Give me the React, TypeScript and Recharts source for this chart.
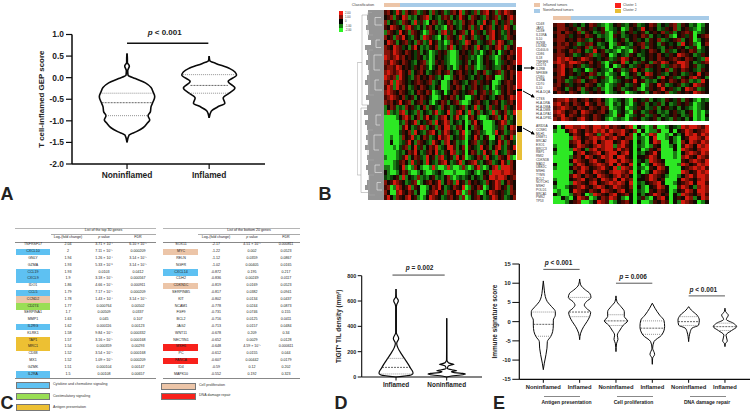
import React from "react";
import {
  Bar,
  BarChart,
  Cell,
  Label,
  ReferenceLine,
  Scatter,
  ScatterChart,
  XAxis,
  YAxis,
} from "recharts";

const FONT = "'Liberation Sans', Arial, sans-serif";

// panel A: violin outlines, density
const aCategories = ["Noninflamed", "Inflamed"];
const aTicks = [1, 0.5, 0, -0.5, -1, -1.5, -2];
const aNonValues = [0.56, 0.44, 0.35, 0.27, 0.16, 0.06, -0.02, -0.12, -0.23, -0.33, -0.44, -0.56, -0.67, -0.79, -0.88, -0.98, -1.05, -1.16, -1.25, -1.33, -1.5];
const aNonDensity = [0, 1, 1, 7, 2, 3, 25, 55, 72, 78, 83, 78, 72, 70, 63, 68, 61, 48, 28, 6, 0];
const aNonQuart = [-0.36, -0.58, -0.88];
const aNonQuartDensity = [76, 76, 63];
const aInfValues = [0.5, 0.39, 0.33, 0.21, 0.06, -0.09, -0.24, -0.36, -0.47, -0.59, -0.68, -0.78, -0.93];
const aInfDensity = [0, 2, 20, 62, 82, 57, 77, 60, 42, 47, 25, 6, 0];
const aInfQuart = [0.07, -0.18, -0.36];
const aInfQuartDensity = [78, 56, 60];

// panel D
const dCategories = ["Inflamed", "Noninflamed"];
const dTicks = [800, 600, 400, 200, 0];
const dInfValues = [695, 634, 603, 570, 555, 350, 305, 265, 234, 187, 147, 108, 68, 42, 29, 16, 0];
const dInfDensity = [0, 1, 7, 2, 1, 1, 8, 2, 5, 15, 25, 35, 44, 50, 51, 45, 0];
const dInfQuart = [147, 76, 24];
const dInfQuartDensity = [25, 42, 50];
const dNonValues = [463, 134, 113, 104, 100, 96, 87, 68, 55, 50, 42, 33, 29, 24, 16, 8, 0];
const dNonDensity = [0, 0.5, 5, 16, 22, 14, 5, 2, 20, 30, 14, 30, 48, 56, 42, 14, 0];

// panel E
const eCategories = ["Noninflamed", "Inflamed", "Noninflamed", "Inflamed", "Noninflamed", "Inflamed"];
const eTicks = [15, 10, 5, 0, -5, -10, -15];
const eValues = [
  [10.6, 8.2, 6.5, 5.2, 3.9, 2.6, 1.7, 0.4, -0.9, -2.6, -3.9, -5.2, -6.9, -8.6, -10.8, -12.5],
  [11.1, 9.6, 8.2, 7.4, 6.3, 5.2, 4.3, 3.5, 2.4, 1.3, 0, -1.3, -3, -4.7],
  [6.7, 5.2, 3.9, 2.6, 1.3, 0.2, -0.9, -2.2, -3.5, -4.6, -5.6, -7.8],
  [4.8, 3.5, 1.7, 0.3, -1.3, -3.5, -5.2, -6.9, -8.5, -9.5, -11.1],
  [3.9, 3, 1.7, 0.4, -0.9, -1.7, -2.6, -5.2],
  [3.5, 2.6, 1.7, 0.6, -0.4, -1.3, -2.3, -3.5, -5, -5.8, -6.5],
];
const eDensity = [
  [0, 3, 6, 12, 25, 36, 36, 30, 30, 28, 22, 12, 11, 8, 3, 0],
  [0, 3, 18, 30, 34, 20, 14, 20, 33, 30, 22, 12, 3, 0],
  [0, 3, 15, 25, 25, 35, 22, 12, 4, 6, 2, 0],
  [0, 8, 22, 35, 37, 28, 5, 1, 7, 1, 0],
  [0, 8, 25, 32, 30, 10, 5, 0],
  [0, 2, 10, 4, 25, 35, 20, 3, 7, 1, 0],
];
const eQuart = [
  [2.5, -0.7, -3.8],
  [6.3, 2.5, 1.3],
  [1.8, 0.2, -1],
  [0.2, -1.7, -3.3],
  [1.3, 0, -1],
  [-0.4, -1.3, -2.3],
];
const eQuartDensity = [
  [36, 30, 22],
  [34, 32, 30],
  [25, 34, 22],
  [34, 36, 28],
  [25, 32, 28],
  [25, 35, 20],
];
const eGroups = ["Antigen presentation", "Cell proliferation", "DNA damage repair"];

// panel B: heat map levels typed cell by cell, R r d k e g G = high to low
const heatColors: Record<string, string> = {
  R: "#d41a0e",
  r: "#851308",
  d: "#470b04",
  k: "#130a03",
  e: "#0d4009",
  g: "#1a7c14",
  G: "#2de824",
};
const mainRows = [
  "drkeRdgrkdrgedkgrekdgedrkRgdkergdrRkdgrdRrdk",
  "kdrgdkRrgegkdrRgkegdrdgkeRdkgrdkegrkdrgdkrRd",
  "rgkdegrdkgRedgGkrdgekrdgegrkdrkgeRkdgrkedrgd",
  "dkRrdkgrRdegkgdrkgegGdrkegdkrgdeRkdrgkdeRrkg",
  "grdkeRkdgrdkeGgrdkgrRedgkdrgkRedkgdrRkdgerkd",
  "rkdgrdRkegdkgRrdegGkgrdkeRgdkrgedkgrRkdegrdk",
  "kRrdgkdrekgrdgeRkdgeGgrkdegRrkdgekdrgdRrkegd",
  "rdkRrdekgdRkgegdkrgegdRgkedrkdgRkegdkrRdgrkd",
  "rrdRrdkrdkedgkeGgedkdgGGgkdkedgeGekdgkGedkrd",
  "RrdrRdrkdkedkgeGgkdkegGGgdkdegeGgkdegGgdkrdk",
  "rdRrdkrdkegkdrgGgdkdegGGgekdgkeGgkdkeGgedkdr",
  "drrdRrkdkedkrdeGekrdkgeGgdkredgGgedkeggdkrdk",
  "rRrdrRdkrgkdrkgekdrkdrgkdrkdekgdkrgekdrgdkrd",
  "RrdrgRdkegdrkdkrdegkGGgdkrdkegkdekrdkGGgdkrk",
  "rdRgRrdkekdrdkdrgekGGgkrdkegkdredkdkGGgkdrdk",
  "dRrgRdrkgedkrdkegkdGGgdkrdgkedrkdegkGgedkrdr",
  "rRrdkrdkegkrdkrdGgekGekrdkekdrgkdredgGgdkrdk",
  "drRrdkrekdgkrdkeGGgkdkrdgkeGGedkrdkegkdrkdRr",
  "rdrkdRkdrgkdrekgGekrdgkdrgGGgkdrkegkdrkgedrk",
  "gkrdgegrkdegkrgdkegrkdgekdrgkeRgdkgredkgrekd",
  "gRgegrRgkegrgkegdRgekRgerRkgRgkrgkegRgdkrgeR",
  "GGGGgkrRdgkrgdRkegdrRkgdRegGdrkgGGgkdrgkRegk",
  "GGGGGegrkdRgkedrgRkdRrgkegkGgdRkeGGGgkdRrgek",
  "GGGGGgdRkgedRrgkdgrkRRegdrkGkgrdkGGGgedrgkRr",
  "GGGGGedkrgRkegdrRkgdRrkegdRGgkdregGGgRkdgerd",
  "GGgGGgrkdRegkrdgekRdrRgkedrGekRdgkdGGkrgdkRg",
  "GGkGGgedRkgrdkegRdkgrRkdgegGkdrgedkgekRdgrke",
  "GGGgGedrgkRedgkrdRgekRRdgkrGdkegRkdgkrRegdkR",
  "GGGGgegkrdRkgedrkRegdkRrgedGkrdgeRkdgRkegrdk",
  "gGGGgedRgkrdegRkdgrRekdgRkrGgekrdgRkegrdkRgG",
  "GGGgedrkgRedkgRkegdrRkgedRgkdrRegkdrgekRdgrk",
  "ggGgekRgGgrkgGGgRgGGgRgGGgrgGgdRgGgkrRgRRRrk",
  "kgGGgkrdgGGgkgGGgekgGGGgGGGgekgGgkdgRRRrRRrd",
  "egekdgRgkegrgegkdgegkrgGgegekgkegdkRRrRRrkdr",
  "rkdRrdkgedrGgkdrkdRgkrdgRkdgrkdkegrkdRrgkrdk",
  "drGgRrkdRgdkGGgkrdRkgekrdkRGgdkrdGgkdRrkdgrk",
  "rkGGrRdkrdgkGGedrRkdgrdkRrGgrkdgGgkRrdkdegrd",
  "dRkgrdkrRkdgGgkRrdkgedrkdgrGgkdrkgedRrkdgekr",
];
const zoomTopRows = [
  "drrkdekgkrdegGgkdegkdgekrdgkedrgdkgeGgk",
  "krrdkdgdkdekdGgekGgdkeRkdkgedkrgkdegGek",
  "drkrdkrgdkgedgGedgkdekdgkdkredgkdrdGgek",
  "krrdekdkrdkgegGdkgekdkrdgkekdgGkdedGkdr",
  "drrkdkrdegkdkgGekdgkdekgdkrgekdrgkdGgkd",
  "krdrkdgedrkgekGgdkegkdredkgdkekgRkdgGkr",
  "drrdkedkrgdegkGegGgedkrgdkegkdkdkgedGek",
  "krdkrdrkgeRkdgegGegGdkekrdkgdegkdkrdgek",
  "drrkdgekdrgedkGgkegdkgekdkrkedkRrdkgedk",
  "dRrRrkdRrdkekdgedRrkdkgkdkrdkdrdkrdkegR",
  "rRrdRRrdkrkdgGedkRgkgedkgrdRrkdRRrkgedr",
  "krRdrkdgedkdeGkGgdkgedkrdkdgedrdRrkdgek",
  "drRkdgekGgdkegGkdgedRkdgekdkrgdkrdkegdk",
  "krRkdkedkrdgeGgekGgkdgkRrkdegkdkgedkRkd",
  "drdkgedkdgekdgGedkgedkgedkgRkdegdkrRdkg",
  "krdgedrgkdrkegGgekdkRkdgegkdkrdkrdgegRk",
  "drkdekdkrdkgeGgedkgedkGgdkRdgekdgekRrdk",
  "rdkgdkrgdkedgGgkdgekdgGedkdRkdegkRrdgek",
  "krdkrdkgedkdkGgekdGgekdgkrdkrgedkdkRrdk",
];
const zoomMidRows = [
  "drrRdrkdrkdrkgGgekgGdkedgkegdkedgdkgGeg",
  "rRdrkrdkRdkrdgGegkgGekdgkedgkgedkdeGgek",
  "drRrdkrdkrdkrdGgekGgedkgedgkdekgkegGgek",
  "rRrkdrkRrdkdrkgGekgGdkgedkgegkdegkdGgGe",
  "drRkrdkrdkrdkegGdkGgekdgedkgekdkgedGgGk",
  "rdRrdkrRdkrdkgGgegGedkgekdgkegdekgkGgGe",
];
const zoomBottomRows = [
  "kGkRRrrRrdRRrRdrdkrRGkgGgdGGgkegRrRRrdR",
  "gGGkrRdkrdRrRdRrrRdkrGkGggdGGkGkdRrkdrRr",
  "GGGGkrdkRrdgrRrkrRkrGkGgRrGGgGkgkRrRdRr",
  "GGGGgRrkdrRrRdrRdkrrGegGkRGGgkgGkdRRrdR",
  "GGGGdrRkrdRkrRRkdRrkGkgGkRrGGkgGrkRrdRr",
  "gGGGkdRrdkrRrRRgrRdkGegGgdkGGgkGdRrkRrR",
  "kGGGgRrkgrRdrRRdRdrkGkGgdkrGGGkGRrdkrRR",
  "gGGGGkrRkdrRkrRRkrRkGegkdRkGGGgGkrRrdRr",
  "GGGGgdrkRrkdRrRkRRdkGkkdRrkGGGgGrRdkRrd",
  "GGGGkRrdkrRdkrRRdRrdGekgRrdkGGGGdkrRrdR",
  "kGGGgdRrkdrRrdRkRdkRGkGgkRrdGGGgRrkdRrR",
  "gGGGkrdRrkdrRdkRgRrdGegGdkRrkGGGkdrRrRd",
  "GGGGgkrRdkRrdkrRRrdRGkGgkRrdkGGGRrkdRrR",
  "GGGGdRrkrdkRrdkrRdrkGekdRrdkgGGgkrRdRRr",
  "gGGGkdrRkdrkRrdRkRdrGkkdRrkdGGGkRrdkrRr",
  "kGGGgRrdkrRkdrRrRrkRGegkdrRkGGgkdrRkRRd",
  "gGGgkdrRdkrRrkdRrdkrGkgGkdRrkGGdRrkgrRr",
  "GgGGkRrdkrdkRrdkrRkdGegGdkrdkGgkdRrkRRr",
  "kgGGgdrkGgRrdkrRkdrkGkgkdRrkdGkgRrdkrRd",
  "GGkgGkRrdGgkrdRrkgGkGedgGkrRkGkdkRrgkRr",
  "GGGgkdrGGgkRrdGgkdrkGkGGgdkrdGkgRrdkGgk",
];
const zoomLabels = [
  ["CD48", "JAK3", "CD3E", "IL15RA", "IL10", "IKZKB", "LILRB2", "CD40LG", "CD86", "IL18", "TNFSF8", "CD274", "IL2RB", "NFKBIE", "CD80", "IL2RA", "CD70", "IL10", "HLA-DQA"],
  ["CTSS", "HLA-DRA", "HLA-DMA", "HLA-DMB", "HLA-DPA1", "HLA-DPB1"],
  ["ARID5A", "CCNE1", "MLH1", "DNMT1", "BRCA2", "EXO1", "BRCC3", "RBP1", "RMI2", "CDKN1B", "MAD2", "UBE2C", "MSH6", "TYMS", "BCL2", "NOTCH1", "MSH2", "POLD1", "BRCA1", "PMS2", "TP53"],
];
const dendroLeaves = [36, 40, 38, 42, 34, 38, 30, 44, 40, 36, 42, 38, 34, 40, 44, 36, 38, 42, 34, 40, 46, 38, 44, 40, 36, 42, 38, 44, 34, 40, 36, 42, 38, 34, 40, 44, 38, 36];
const dendroLinks = [
  { d: [22, 26.7, 26.7, 23], r: [10.5, 10.5, 33, 33] },
  { d: [16, 22, 22, 15], r: [1, 1, 19, 19] },
  { d: [17, 23, 23, 16], r: [19.6, 19.6, 36.5, 36.5] },
  { d: [12, 16, 16, 11], r: [0.5, 0.5, 5, 5] },
  { d: [11, 15, 15, 10], r: [8, 8, 17, 17] },
  { d: [11, 16, 16, 10], r: [24, 24, 30, 30] },
  { d: [10, 15, 15, 9], r: [33, 33, 37, 37] },
];
const leafLinks = [
  { d: [3, 9, 9, 2], r: [1.5, 1.5, 3, 3] },
  { d: [4, 8, 8, 3], r: [6, 6, 7.5, 7.5] },
  { d: [2, 10, 10, 4], r: [9, 9, 12, 12] },
  { d: [5, 9, 9, 2], r: [14, 14, 16, 16] },
  { d: [3, 8, 8, 4], r: [21, 21, 23, 23] },
  { d: [2, 10, 10, 5], r: [25, 25, 28, 28] },
  { d: [4, 9, 9, 2], r: [31, 31, 32.5, 32.5] },
  { d: [3, 7, 7, 2], r: [34.5, 34.5, 36, 36] },
];
const colorbarLabels = ["2.00", "1.00", "0", "-1.00", "-2.00"];
const colorbarFills = ["#f2190f", "#8a1208", "#000000", "#157a12", "#2df524"];

// panel C
const topGenes = ["TNFRSF17", "CXCL10", "GNLY", "GZMA", "CCL19", "CXCL9", "IDO1", "CCL5", "CCND2", "CD274", "SERPINA1", "MMP1", "IL2RG", "KLRK1", "TAP1", "MRC1", "CD38", "MX1", "GZMK", "IL2RA"];
const topFold = ["2.04", "2", "1.94", "1.93", "1.93", "1.9", "1.86", "1.79", "1.78", "1.77", "1.7", "1.63", "1.62", "1.58", "1.57", "1.54", "1.52", "1.52", "1.51", "1.5"];
const topP = ["3.71 × 10⁻⁷", "7.11 × 10⁻⁵", "1.26 × 10⁻⁷", "5.33 × 10⁻⁸", "0.0103", "3.18 × 10⁻⁵", "4.66 × 10⁻⁵", "7.17 × 10⁻⁵", "1.43 × 10⁻⁷", "0.000764", "0.00509", "0.045", "0.000116", "9.84 × 10⁻⁵", "3.16 × 10⁻⁵", "0.000359", "3.54 × 10⁻⁵", "1.09 × 10⁻⁵", "0.000104", "0.00108"];
const topFdr = ["6.10 × 10⁻⁵", "0.000209", "3.14 × 10⁻⁵", "3.14 × 10⁻⁵", "0.0412", "0.000567", "0.000911", "0.000209", "3.14 × 10⁻⁵", "0.00502", "0.0337", "0.107", "0.00123", "0.000332", "0.000168", "0.00293", "0.000168", "0.000209", "0.00147", "0.00657"];
const topColors = ["", "blue", "", "", "blue", "blue", "", "blue", "tan", "green", "", "", "blue", "", "yellow", "yellow", "", "", "", "blue"];
const bottomGenes = ["SOX11", "MYC", "RELN", "NGFR", "CXCL14", "CDH2", "CDKN1C", "SERPINB5", "KIT", "NCAM1", "FGF9", "BCL2", "JAG2", "WNT11", "NECTIN1", "MSH6", "PC", "FANCA", "ID4", "MAPK10"];
const bottomFold = ["-2.17", "-1.22", "-1.12", "-1.02", "-0.872", "-0.836", "-0.819", "-0.817", "-0.802", "-0.778", "-0.731", "-0.716", "-0.713", "-0.678", "-0.652", "-0.648", "-0.612", "-0.607", "-0.59", "-0.552"];
const bottomP = ["4.51 × 10⁻⁵", "0.002", "0.0359", "0.00405", "0.195", "0.00249", "0.0169", "0.0382", "0.0134", "0.0244", "0.0746", "0.0125", "0.0157", "0.209", "0.0029", "4.59 × 10⁻⁵", "0.0155", "0.00442", "0.12", "0.192"];
const bottomFdr = ["0.000811", "0.0523", "0.0867", "0.0165", "0.217", "0.0117", "0.0523", "0.0941", "0.0437", "0.0873", "0.155", "0.0411", "0.0484", "0.34", "0.0128", "0.000611", "0.044", "0.0179", "0.202", "0.323"];
const bottomColors = ["", "tan", "", "", "blue", "", "tan", "", "", "", "", "", "", "", "", "red", "", "red", "", ""];
const swatches: Record<string, string> = {
  blue: "#5ec1f2",
  green: "#9ade55",
  yellow: "#edc033",
  tan: "#ecc5a8",
  red: "#f8211b",
};
const leftLegend = [["blue", "Cytokine and chemokine signaling"], ["green", "Costimulatory signaling"], ["yellow", "Antigen presentation"]];
const rightLegend = [["tan", "Cell proliferation"], ["red", "DNA damage repair"]];

const Txt: React.FC<{
  x: number;
  y: number;
  size: number;
  bold?: boolean;
  align?: "left" | "center" | "right";
  color?: string;
  children: React.ReactNode;
}> = ({ x, y, size, bold, align = "center", color = "#222", children }) => {
  const shift = align === "left" ? "0" : align === "right" ? "-100%" : "-50%";
  return (
    <div
      style={{
        position: "absolute",
        left: x,
        top: y,
        fontFamily: FONT,
        fontSize: size,
        fontWeight: bold ? 700 : 400,
        color,
        lineHeight: 1,
        whiteSpace: "nowrap",
        transform: `translate(${shift}, -50%)`,
      }}
    >
      {children}
    </div>
  );
};

const Box: React.FC<{ x: number; y: number; w: number; h: number; fill: string; border?: string }> = ({ x, y, w, h, fill, border }) => (
  <div
    style={{
      position: "absolute",
      left: x,
      top: y,
      width: w,
      height: h,
      background: fill,
      boxSizing: "border-box",
      border: border ? `0.6px solid ${border}` : undefined,
    }}
  />
);

const PLabel = ({ viewBox, text, size, dx = 0, dy = 6 }: any) => {
  const vb = viewBox || { x: 0, y: 0, width: 0 };
  return (
    <text
      x={vb.x + (vb.width || 0) / 2 + dx}
      y={vb.y - dy}
      textAnchor="middle"
      dominantBaseline="middle"
      fontSize={size}
      fontWeight={700}
      fontFamily={FONT}
      fill="#222"
    >
      <tspan fontStyle="italic">p</tspan> {text}
    </text>
  );
};

const noDot = () => <g />;

// one violin: two monotone sides and three quartile rules
function violin(
  id: string,
  center: number,
  values: number[],
  density: number[],
  scale: number,
  quart: number[],
  quartDensity: number[],
  width: number
) {
  const sides = [-1, 1].map((side) => (
    <Scatter
      key={`${id}-${side}`}
      data={values.map((y, i) => ({ x: center + (side * density[i]) / scale, y }))}
      line={{ stroke: "#0a0a0a", strokeWidth: width }}
      lineJointType="monotoneY"
      shape={noDot}
      isAnimationActive={false}
    />
  ));
  const rules = quart.map((y, i) => (
    <Scatter
      key={`${id}-q${i}`}
      data={[
        { x: center - quartDensity[i] / scale, y },
        { x: center + quartDensity[i] / scale, y },
      ]}
      line={{
        stroke: i === 1 ? "#222" : "#666",
        strokeWidth: 0.7,
        strokeDasharray: i === 1 ? "2 1" : "1 1",
      }}
      shape={noDot}
      isAnimationActive={false}
    />
  ));
  return [...sides, ...rules];
}

const axisStroke = (w: number) => ({ stroke: "#0a0a0a", strokeWidth: w });
const tickFont = (size: number) => ({ fontSize: size, fontWeight: 700, fontFamily: FONT, fill: "#222" });

const PanelA = () => (
  <div style={{ position: "absolute", left: 0, top: 0 }}>
    <ScatterChart width={330} height={215} margin={{ top: 34.5, right: 65, bottom: 21, left: 0 }}>
      <XAxis
        type="number"
        dataKey="x"
        domain={[0.33, 2.68]}
        ticks={[1, 2]}
        tickFormatter={(v: number) => aCategories[v - 1]}
        axisLine={axisStroke(1.5)}
        tickLine={axisStroke(1.2)}
        tickSize={5}
        tickMargin={3}
        tick={tickFont(8.4)}
        height={30}
        interval={0}
      />
      <YAxis
        type="number"
        dataKey="y"
        domain={[-2, 1]}
        ticks={aTicks}
        tickFormatter={(v: number) => v.toFixed(1)}
        axisLine={axisStroke(1.5)}
        tickLine={axisStroke(1.2)}
        tickSize={6}
        tickMargin={2}
        tick={tickFont(8.4)}
        width={72}
        interval={0}
        label={{ value: "T cell-inflamed GEP score", angle: -90, position: "center", dx: 5, style: tickFont(7.9) }}
      />
      <ReferenceLine
        segment={[{ x: 1, y: 0.8 }, { x: 1.99, y: 0.8 }]}
        stroke="#111"
        strokeWidth={1.5}
        ifOverflow="visible"
      >
        <Label content={<PLabel text="< 0.001" size={8} dx={-3} dy={10} />} />
      </ReferenceLine>
      {violin("a1", 1, aNonValues, aNonDensity, 246, aNonQuart, aNonQuartDensity, 1.6)}
      {violin("a2", 2, aInfValues, aInfDensity, 246, aInfQuart, aInfQuartDensity, 1.6)}
    </ScatterChart>
  </div>
);

const PanelD = () => (
  <div style={{ position: "absolute", left: 300, top: 260 }}>
    <ScatterChart width={182} height={157} margin={{ top: 15.7, right: 0, bottom: 10, left: 0 }}>
      <XAxis
        type="number"
        dataKey="x"
        domain={[0.323, 2.696]}
        ticks={[1, 2]}
        tickFormatter={(v: number) => dCategories[v - 1]}
        axisLine={axisStroke(1.1)}
        tickLine={axisStroke(1)}
        tickSize={3.5}
        tickMargin={2}
        tick={tickFont(6.4)}
        height={30}
        interval={0}
      />
      <YAxis
        type="number"
        dataKey="y"
        domain={[0, 800]}
        ticks={dTicks}
        axisLine={axisStroke(1.1)}
        tickLine={axisStroke(1)}
        tickSize={4}
        tickMargin={1.5}
        tick={tickFont(5.4)}
        width={61.7}
        interval={0}
        label={{ value: "TIGIT⁺ TIL density (mm²)", angle: -90, position: "center", dx: 8, style: tickFont(6.4) }}
      />
      <ReferenceLine
        segment={[{ x: 0.93, y: 805 }, { x: 1.96, y: 805 }]}
        stroke="#444"
        strokeWidth={1}
        ifOverflow="visible"
      >
        <Label content={<PLabel text="= 0.002" size={6.5} dx={1} dy={7} />} />
      </ReferenceLine>
      {violin("d1", 1, dInfValues, dInfDensity, 152, dInfQuart, dInfQuartDensity, 1.2)}
      {violin("d2", 2, dNonValues, dNonDensity, 152, [], [], 1.2)}
    </ScatterChart>
  </div>
);

const eBars = [
  { from: 1, to: 2, y: 13.6, text: "< 0.001", dx: -3 },
  { from: 3, to: 4, y: 10, text: "= 0.006", dx: -1 },
  { from: 5, to: 6, y: 6.7, text: "< 0.001", dx: -3.5 },
];

const PanelE = () => (
  <div style={{ position: "absolute", left: 460, top: 250 }}>
    <ScatterChart width={290} height={167} margin={{ top: 14, right: 0, bottom: 7.7, left: 0 }}>
      <XAxis
        type="number"
        dataKey="x"
        domain={[0.339, 6.689]}
        ticks={[1, 2, 3, 4, 5, 6]}
        tickFormatter={(v: number) => eCategories[v - 1]}
        axisLine={axisStroke(1.2)}
        tickLine={axisStroke(1)}
        tickSize={3.5}
        tickMargin={2}
        tick={tickFont(5.8)}
        height={30}
        interval={0}
      />
      <YAxis
        type="number"
        dataKey="y"
        domain={[-15, 15]}
        ticks={eTicks}
        axisLine={axisStroke(1.2)}
        tickLine={axisStroke(1)}
        tickSize={7}
        tickMargin={1.5}
        tick={tickFont(5.8)}
        width={59.3}
        interval={0}
        label={{ value: "Immune signature score", angle: -90, position: "center", dx: 5, style: tickFont(6.4) }}
      />
      {eBars.map((b) => (
        <ReferenceLine
          key={b.from}
          segment={[{ x: b.from, y: b.y }, { x: b.to, y: b.y }]}
          stroke="#444"
          strokeWidth={0.9}
          ifOverflow="visible"
        >
          <Label content={<PLabel text={b.text} size={6.5} dx={b.dx} dy={6} />} />
        </ReferenceLine>
      ))}
      {eValues.map((vals, i) =>
        violin(`e${i}`, i + 1, vals, eDensity[i], 109, eQuart[i], eQuartDensity[i], 1)
      )}
    </ScatterChart>
  </div>
);

// stacked unit bars, one series per heat map row, one Cell per column
const HeatMap: React.FC<{ rows: string[]; cols: number; x: number; y: number; w: number; h: number }> = ({ rows, cols, x, y, w, h }) => {
  const data = Array.from({ length: cols }, (_, c) => {
    const d: Record<string, number> = { col: c };
    rows.forEach((_r, i) => {
      d[`r${i}`] = 1;
    });
    return d;
  });
  return (
    <div style={{ position: "absolute", left: x, top: y, shapeRendering: "crispEdges" } as React.CSSProperties}>
      <BarChart width={w} height={h} data={data} margin={{ top: 0, right: 0, bottom: 0, left: 0 }} barCategoryGap={0} barGap={0}>
        <XAxis dataKey="col" type="category" hide />
        <YAxis type="number" domain={[0, rows.length]} reversed hide />
        {rows.map((row, i) => (
          <Bar key={i} dataKey={`r${i}`} stackId="h" isAnimationActive={false}>
            {data.map((_d, c) => (
              <Cell key={c} fill={heatColors[row[c] || "k"]} />
            ))}
          </Bar>
        ))}
      </BarChart>
    </div>
  );
};

const Dendrogram = () => {
  const leaves = dendroLeaves.map((len, row) => ({ row, len }));
  return (
    <>
      <div style={{ position: "absolute", left: 358, top: 10, shapeRendering: "crispEdges" } as React.CSSProperties}>
        <BarChart width={26} height={190} layout="vertical" data={leaves} margin={{ top: 0, right: 0, bottom: 0, left: 0 }} barCategoryGap={0}>
          <XAxis type="number" domain={[0, 60]} reversed hide />
          <YAxis type="category" dataKey="row" hide />
          <Bar dataKey="len" fill="#949494" isAnimationActive={false} />
        </BarChart>
      </div>
      <div style={{ position: "absolute", left: 357, top: 10 }}>
        <ScatterChart width={27} height={190} margin={{ top: 0, right: 0, bottom: 0, left: 0 }}>
          <XAxis type="number" dataKey="x" domain={[0, 27]} reversed hide />
          <YAxis type="number" dataKey="y" domain={[0, 38]} reversed hide />
          {dendroLinks.map((link, i) => (
            <Scatter
              key={i}
              data={link.d.map((x, k) => ({ x, y: link.r[k] }))}
              line={{ stroke: "#a8a8a8", strokeWidth: 0.6 }}
              shape={noDot}
              isAnimationActive={false}
            />
          ))}
          {leafLinks.map((link, i) => (
            <Scatter
              key={`leaf-${i}`}
              data={link.d.map((x, k) => ({ x, y: link.r[k] }))}
              line={{ stroke: "#ececec", strokeWidth: 0.6 }}
              shape={noDot}
              isAnimationActive={false}
            />
          ))}
        </ScatterChart>
      </div>
    </>
  );
};

const PanelB = () => (
  <>
    <Txt x={363} y={5.5} size={3.8} color="#444">Classification</Txt>
    <Box x={384} y={3} w={16} h={4} fill="#ecc5a8" />
    <Box x={400} y={3} w={116} h={4} fill="#a7cbe8" />
    {colorbarFills.map((fill, i) => (
      <React.Fragment key={fill}>
        <Box x={339} y={11 + i * 4.2} w={4} h={4.2} fill={fill} />
        <Txt x={345} y={13 + i * 4.2} size={2.8} align="left" color="#333">{colorbarLabels[i]}</Txt>
      </React.Fragment>
    ))}
    <Dendrogram />
    <HeatMap rows={mainRows} cols={44} x={384} y={10} w={132} h={190} />
    <Box x={517} y={47} w={5} h={63} fill="#f8211b" />
    <Box x={517} y={110} w={5} h={50} fill="#e8bf36" />
    <Box x={517} y={65} w={5} h={6} fill="#000" />
    <Box x={517} y={89} w={5} h={2} fill="#000" />
    <Box x={517} y={126} w={5} h={6} fill="#000" />
    <svg width={750} height={417} style={{ position: "absolute", left: 0, top: 0, pointerEvents: "none" }}>
      <defs>
        <marker id="head" markerWidth="4" markerHeight="4" refX="3" refY="2" orient="auto">
          <path d="M0,0 L4,2 L0,4 Z" fill="#000" />
        </marker>
      </defs>
      <line x1={524} y1={68} x2={534} y2={68} stroke="#000" strokeWidth={1} markerEnd="url(#head)" />
      <line x1={523} y1={91} x2={534} y2={97} stroke="#000" strokeWidth={1} markerEnd="url(#head)" />
      <line x1={523} y1={128} x2={534} y2={134} stroke="#000" strokeWidth={1} markerEnd="url(#head)" />
    </svg>
    <Box x={534} y={3} w={6} h={4} fill="#ecc5a8" />
    <Box x={534} y={9} w={6} h={4} fill="#a7cbe8" />
    <Txt x={543} y={5.5} size={3.4} align="left" color="#444">Inflamed tumors</Txt>
    <Txt x={543} y={11} size={3.4} align="left" color="#444">Noninflamed tumors</Txt>
    <Box x={615} y={3} w={6} h={4.6} fill="#f8211b" />
    <Box x={615} y={8.6} w={6} h={4.6} fill="#e8bf36" />
    <Txt x={623} y={5.5} size={3.4} align="left" color="#444">Cluster 1</Txt>
    <Txt x={623} y={11} size={3.4} align="left" color="#444">Cluster 2</Txt>
    <Box x={553} y={16} w={18} h={4} fill="#ecc5a8" />
    <Box x={571} y={16} w={138} h={4} fill="#a7cbe8" />
    <HeatMap rows={zoomTopRows} cols={39} x={553} y={23} w={156} h={71.25} />
    <HeatMap rows={zoomMidRows} cols={39} x={553} y={97.5} w={156} h={23.4} />
    <HeatMap rows={zoomBottomRows} cols={39} x={553} y={125} w={156} h={79} />
    {zoomLabels.map((labels, set) =>
      labels.map((name, i) => (
        <Txt
          key={`${set}-${i}`}
          x={536}
          y={[24.8, 100, 127][set] + i * (set === 0 ? 3.77 : 3.76)}
          size={3.2}
          align="left"
          color="#333"
        >
          {name}
        </Txt>
      ))
    )}
  </>
);

const GeneTable: React.FC<{
  title: string;
  genes: string[];
  fold: string[];
  p: string[];
  fdr: string[];
  colors: string[];
  x0: number;
  x1: number;
  box: [number, number];
  cols: [number, number, number, number];
  headLeft: number;
}> = ({ title, genes, fold, p, fdr, colors, x0, x1, box, cols, headLeft }) => (
  <>
    <Box x={x0} y={227.5} w={x1 - x0} h={1.1} fill="#b5b5b5" />
    <Txt x={(headLeft + x1) / 2} y={231} size={3.6}>{title}</Txt>
    <Box x={headLeft} y={234} w={x1 - headLeft} h={0.5} fill="#aaa" />
    <Txt x={cols[1]} y={238} size={3.6}>Log₂(fold change)</Txt>
    <Txt x={cols[2]} y={238} size={3.6}><i>p</i> value</Txt>
    <Txt x={cols[3]} y={238} size={3.6}>FDR</Txt>
    <Box x={x0} y={241.5} w={x1 - x0} h={0.6} fill="#888" />
    {genes.map((gene, i) => {
      const y = 245.3 + i * 6.8;
      return (
        <React.Fragment key={gene}>
          {colors[i] && <Box x={box[0]} y={y - 3.4} w={box[1] - box[0]} h={6.8} fill={swatches[colors[i]]} />}
          <Txt x={cols[0]} y={y} size={3.6}>{gene}</Txt>
          <Txt x={cols[1]} y={y} size={3.6}>{fold[i]}</Txt>
          <Txt x={cols[2]} y={y} size={3.6}>{p[i]}</Txt>
          <Txt x={cols[3]} y={y} size={3.6}>{fdr[i]}</Txt>
        </React.Fragment>
      );
    })}
    <Box x={x0} y={377.5} w={x1 - x0} h={0.6} fill="#888" />
  </>
);

const PanelC = () => (
  <>
    <GeneTable
      title="List of the top 30 genes"
      genes={topGenes}
      fold={topFold}
      p={topP}
      fdr={topFdr}
      colors={topColors}
      x0={15}
      x1={156}
      box={[16, 50]}
      cols={[33, 68, 104, 138]}
      headLeft={51}
    />
    <GeneTable
      title="List of the bottom 20 genes"
      genes={bottomGenes}
      fold={bottomFold}
      p={bottomP}
      fdr={bottomFdr}
      colors={bottomColors}
      x0={163}
      x1={300}
      box={[163, 198]}
      cols={[181, 216, 252, 286]}
      headLeft={198}
    />
    {leftLegend.map(([key, name], i) => (
      <React.Fragment key={key}>
        <Box x={16} y={382 + i * 11.2} w={34} h={6.6} fill={swatches[key]} border="#777" />
        <Txt x={53} y={385.3 + i * 11.2} size={3.6} align="left" color="#333">{name}</Txt>
      </React.Fragment>
    ))}
    {rightLegend.map(([key, name], i) => (
      <React.Fragment key={key}>
        <Box x={161} y={383 + i * 10} w={35} h={6.6} fill={swatches[key]} border="#777" />
        <Txt x={199} y={386.3 + i * 10} size={3.6} align="left" color="#333">{name}</Txt>
      </React.Fragment>
    ))}
  </>
);

const App: React.FC = () => (
  <div style={{ position: "absolute", left: 0, top: 0, width: 750, height: 417, background: "#fff", overflow: "hidden" }}>
    <PanelA />
    <PanelB />
    <PanelC />
    <PanelD />
    <PanelE />
    {eGroups.map((name, i) => (
      <React.Fragment key={name}>
        <Box x={[544, 617, 690][i]} y={395.8} w={36} h={0.7} fill="#888" />
        <Txt x={[566.5, 633.5, 707][i]} y={401.5} size={5} bold>{name}</Txt>
      </React.Fragment>
    ))}
    <Txt x={7} y={194} size={18} bold>A</Txt>
    <Txt x={325} y={194} size={18} bold>B</Txt>
    <Txt x={7} y={403} size={18} bold>C</Txt>
    <Txt x={341} y={403} size={18} bold>D</Txt>
    <Txt x={499} y={403} size={18} bold>E</Txt>
  </div>
);

export default App;
